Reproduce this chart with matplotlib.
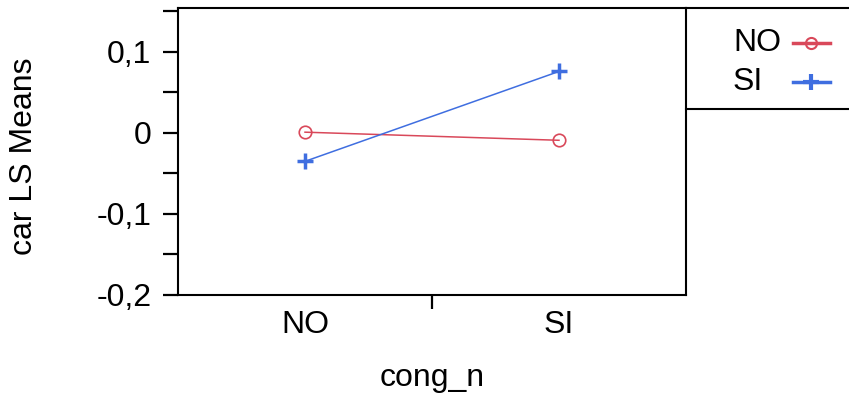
import matplotlib
matplotlib.use("Agg")
from matplotlib import pyplot as plt
from matplotlib.lines import Line2D

plt.rcParams['font.family'] = ['Liberation Sans', 'DejaVu Sans']

# LS means
categories = ['NO', 'SI']
groups = ['NO', 'SI']
means_no = [0.001, -0.009]
means_si = [-0.035, 0.076]
y_ticks = [-0.2, -0.1, 0.0, 0.1]
y_tick_labels = ['-0,2', '-0,1', '0', '0,1']

red = '#d9485a'
blue = '#3f6ee0'

W, H = 849, 397
fig = plt.figure(figsize=(W / 100, H / 100), dpi=100)
left, right, top, bottom = 178, 686, 8, 295
ax = fig.add_axes([left / W, 1 - bottom / H, (right - left) / W, (bottom - top) / H])

x = list(range(len(categories)))
ax.plot(x, means_no, color=red, lw=1.1, marker='o', ms=9, mfc='none', mec=red, mew=1.2)
ax.plot(x, means_si, color=blue, lw=1.1, marker='+', ms=12, mec=blue, mew=2.5)

ax.set_xlim(-0.5, 1.5)
ax.set_ylim(-0.2, 0.1543)

ax.set_yticks(y_ticks)
ax.set_yticklabels(y_tick_labels)
ax.set_yticks([-0.15, -0.05, 0.05, 0.15], minor=True)
ax.tick_params(axis='y', which='both', length=11, width=1.6, pad=8, labelsize=23)

ax.set_xticks(x)
ax.set_xticklabels(categories)
ax.set_xticks([0.5], minor=True)
ax.tick_params(axis='x', which='major', length=0, pad=11, labelsize=23)
ax.tick_params(axis='x', which='minor', length=10, width=1.6)

for s in ax.spines.values():
    s.set_linewidth(1.5)

fig.text(432 / W, 1 - 378 / H, 'cong_n', ha='center', va='center', fontsize=23)
fig.text(24 / W, 1 - 156 / H, 'car LS Means', ha='center', va='center', rotation=90, fontsize=23)

# legend panel lines to the right of the plot
fig.add_artist(Line2D([right / W, 1], [1 - top / H, 1 - top / H], color='black', lw=1.5))
fig.add_artist(Line2D([right / W, 1], [1 - 109 / H, 1 - 109 / H], color='black', lw=1.5))

# legend entries: label left-aligned, sample line + marker to the right
styles = [dict(color=red, marker='o', ms=8, mfc='none', mec=red, mew=1.5),
          dict(color=blue, marker='+', ms=12, mec=blue, mew=3)]
for i, (name, st) in enumerate(zip(groups, styles)):
    yy = 1 - (43 + 39 * i) / H
    fig.text(733 / W, yy, name, ha='left', va='center', fontsize=23)
    fig.add_artist(Line2D([793 / W, 830 / W], [yy, yy], lw=2.5, **st, markevery=[]))
    fig.add_artist(Line2D([811 / W], [yy], lw=0, **st))

fig.savefig('out.png', dpi=100)
